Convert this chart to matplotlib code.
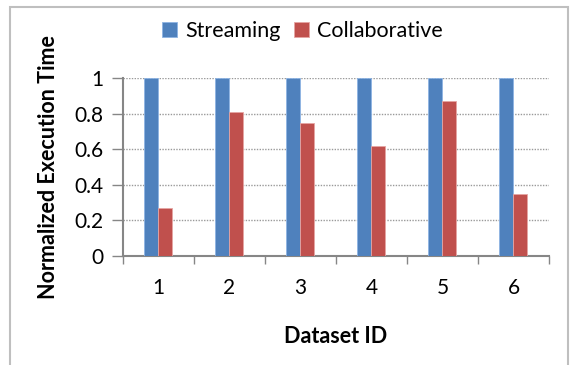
import numpy as np
import matplotlib
matplotlib.use('Agg')
import matplotlib.pyplot as plt
from matplotlib.patches import Rectangle

# values
datasets = ['1', '2', '3', '4', '5', '6']
streaming = [1, 1, 1, 1, 1, 1]
collaborative = [0.27, 0.81, 0.75, 0.62, 0.87, 0.35]
yticks = [0, 0.2, 0.4, 0.6, 0.8, 1]
ytick_labels = ['0', '0.2', '0.4', '0.6', '0.8', '1']

plt.rcParams['font.family'] = ['Lato', 'DejaVu Sans']

fig = plt.figure(figsize=(5.76, 3.65), dpi=100)
ax = fig.add_axes([0.2135, 0.2986, 0.7396, 0.4877])

x = np.arange(len(datasets))
w = 0.197
ax.bar(x - w / 2, streaming, w, color='#4F81BD', edgecolor='#8EB4E3',
       linewidth=0.6, label='Streaming', zorder=3)
ax.bar(x + w / 2, collaborative, w, color='#C0504D', edgecolor='#E6A5A3',
       linewidth=0.6, label='Collaborative', zorder=3)

ax.set_xlim(-0.5, len(datasets) - 0.5)
ax.set_ylim(0, 1)
ax.set_yticks(yticks)
ax.set_yticklabels(ytick_labels)
ax.set_xticks(x)
ax.set_xticklabels(datasets)
ax.set_xticks(np.arange(len(datasets) + 1) - 0.5, minor=True)
ax.tick_params(axis='x', which='major', length=0, pad=16, labelsize=15)
ax.tick_params(axis='x', which='minor', length=6, color='#868686', width=1)
ax.tick_params(axis='y', length=8, color='#868686', width=1, labelsize=15, pad=6)

ax.grid(axis='y', color='#9A9A9A', linestyle=(0, (1, 1)), linewidth=1, zorder=0)
ax.set_axisbelow(True)
for s in ['top', 'right']:
    ax.spines[s].set_visible(False)
for s in ['left', 'bottom']:
    ax.spines[s].set_color('#868686')
    ax.spines[s].set_linewidth(1.5)

ax.set_xlabel('Dataset ID', fontsize=15.5, fontweight='bold', labelpad=20)
ax.set_ylabel('Normalized Execution Time', fontsize=15.5, fontweight='bold', labelpad=11)

fig.legend(loc='upper center', bbox_to_anchor=(0.525, 0.995), ncol=2, frameon=False,
           fontsize=15.5, handlelength=0.7, handleheight=0.7, handletextpad=0.4,
           columnspacing=0.6)

# outer chart border
fig.patches.append(Rectangle((10 / 576, -0.05), 558 / 576, 1 - 7 / 365 + 0.05,
                             transform=fig.transFigure, fill=False,
                             edgecolor='#BFBFBF', linewidth=1.5))

fig.savefig('out.png', dpi=100)
